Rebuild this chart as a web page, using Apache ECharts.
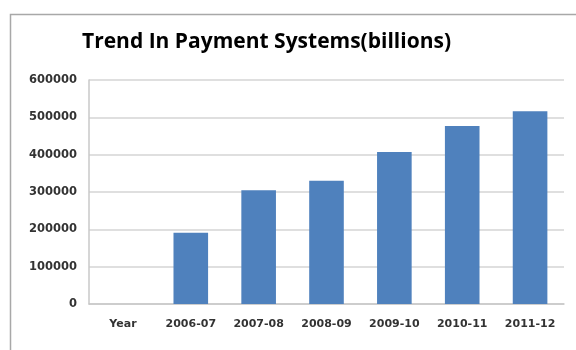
<!DOCTYPE html>
<html>
<head>
<meta charset="utf-8">
<script src="https://cdn.jsdelivr.net/npm/echarts@6/dist/echarts.min.js"></script>
<style>
  html, body { margin: 0; padding: 0; background: #fff; }
  #chart { width: 576px; height: 350px; }
</style>
</head>
<body>
<div id="chart"></div>
<script>
// chart data
var categories = ['Year', '2006-07', '2007-08', '2008-09', '2009-10', '2010-11', '2011-12']
var payments = [null, 191000, 305000, 330000, 407000, 477000, 516000]
var yTicks = [0, 100000, 200000, 300000, 400000, 500000, 600000]

var chart = echarts.init(document.getElementById('chart'))

chart.setOption({
  animation: false,
  title: {
    text: 'Trend In Payment Systems(billions)',
    left: 77,
    top: 27,
    textStyle: {
      fontFamily: 'Open Sans',
      fontWeight: 'bold',
      fontSize: 21,
      color: '#000'
    }
  },
  // outer chart frame, cut off at right and bottom like the source image
  graphic: [
    {
      type: 'rect',
      left: 8,
      top: 12,
      shape: { width: 620, height: 400 },
      style: { fill: 'none', stroke: '#a8a8a8', lineWidth: 1.5 },
      silent: true
    }
  ],
  grid: {
    left: 89,
    right: 12,
    top: 80,
    bottom: 46
  },
  xAxis: {
    type: 'category',
    data: categories,
    axisTick: { show: false },
    axisLine: { lineStyle: { color: '#c8c8c8', width: 1.5 } },
    axisLabel: {
      margin: 15,
      color: '#333',
      fontFamily: 'DejaVu Sans',
      fontWeight: 'bold',
      fontSize: 11,
      interval: 0
    }
  },
  yAxis: {
    type: 'value',
    min: yTicks[0],
    max: yTicks[yTicks.length - 1],
    interval: yTicks[1] - yTicks[0],
    axisLine: { show: true, lineStyle: { color: '#c8c8c8', width: 1.5 } },
    axisTick: { show: false },
    splitLine: { lineStyle: { color: '#d4d4d4', width: 1.5 } },
    axisLabel: {
      margin: 12,
      color: '#333',
      fontFamily: 'DejaVu Sans',
      fontWeight: 'bold',
      fontSize: 11.5,
      formatter: function (v) { return String(v) }
    }
  },
  series: [
    {
      name: 'Payments',
      type: 'bar',
      data: payments,
      barWidth: '51%',
      itemStyle: { color: '#4f81bd' }
    }
  ]
})
</script>
</body>
</html>
